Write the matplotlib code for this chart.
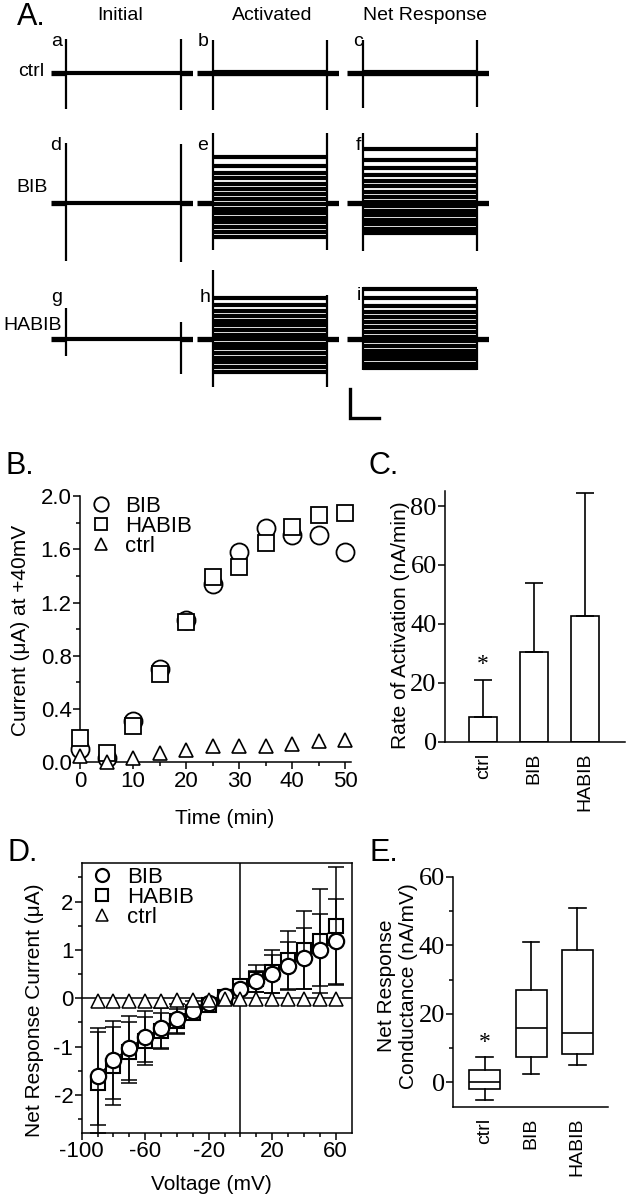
import matplotlib.pyplot as plt
import numpy as np

W, H = 627, 1199
plt.rcParams['font.family'] = ['Liberation Sans', 'DejaVu Sans']
plt.rcParams['axes.linewidth'] = 1.1
plt.rcParams['axes.unicode_minus'] = False
SERIF = 'Liberation Serif'

# ---- panel A: current traces (uA), one list per panel, -90..+60 mV steps ----
col_titles = ['Initial', 'Activated', 'Net Response']
row_names = ['ctrl', 'BIB', 'HABIB']
panel_tags = ['a', 'b', 'c', 'd', 'e', 'f', 'g', 'h', 'i']
sweep_ms = 1250
pulse_on_ms = 140
pulse_off_ms = 1150
scale_ms = 250
scale_ua = 1.0

ctrl_initial = [0.0]
ctrl_activated = [-0.04, -0.02, 0.0, 0.02, 0.04]
ctrl_net = [-0.04, -0.02, 0.0, 0.02, 0.04]
bib_initial = [0.0]
bib_activated = [-1.15, -0.98, -0.82, -0.66, -0.50, -0.34, -0.18, -0.02,
                 0.15, 0.32, 0.50, 0.68, 0.86, 1.05, 1.28, 1.60]
bib_net = [-1.03, -0.88, -0.72, -0.56, -0.41, -0.25, -0.10, 0.06,
           0.22, 0.40, 0.58, 0.78, 0.98, 1.20, 1.50, 1.86]
habib_initial = [0.0]
habib_activated = [-1.13, -0.97, -0.80, -0.64, -0.48, -0.32, -0.16, 0.0,
                   0.15, 0.31, 0.47, 0.63, 0.80, 0.98, 1.18, 1.40]
habib_net = [-1.01, -0.86, -0.70, -0.55, -0.40, -0.24, -0.08, 0.08,
             0.24, 0.40, 0.57, 0.75, 0.94, 1.14, 1.40, 1.71]

# capacitive transients at pulse on / off (uA), panels a..i
on_top = [1.17, 1.15, 1.15, 2.08, 2.41, 2.42, 1.07, 2.38, 1.80]
on_bot = [-1.24, -1.27, -1.20, -1.98, -1.61, -1.64, -0.58, -1.64, -1.07]
off_top = [1.17, 1.15, 1.15, 2.05, 2.41, 2.42, 0.59, 1.52, 1.72]
off_bot = [-1.27, -1.27, -1.17, -2.02, -1.61, -1.64, -1.21, -1.64, -1.07]

# ---- panel B: current at +40 mV vs time ----
time_min = [0, 5, 10, 15, 20, 25, 30, 35, 40, 45, 50]
bib_time = [0.10, 0.03, 0.31, 0.70, 1.07, 1.34, 1.58, 1.76, 1.71, 1.71, 1.58]
habib_time = [0.18, 0.07, 0.27, 0.66, 1.05, 1.39, 1.47, 1.65, 1.77, 1.86, 1.87]
ctrl_time = [0.05, 0.0, 0.03, 0.07, 0.09, 0.12, 0.12, 0.12, 0.14, 0.16, 0.17]

# ---- panel C: rate of activation ----
groups = ['ctrl', 'BIB', 'HABIB']
rate_mean = [8.5, 30.5, 42.5]
rate_sd = [12.5, 23.5, 42.0]

# ---- panel D: I-V of net response ----
volt_mv = [-90, -80, -70, -60, -50, -40, -30, -20, -10, 0, 10, 20, 30, 40, 50, 60]
bib_iv = [-1.62, -1.28, -1.03, -0.80, -0.62, -0.42, -0.26, -0.10,
          0.05, 0.20, 0.35, 0.50, 0.67, 0.83, 1.00, 1.18]
bib_iv_err = [1.00, 0.80, 0.67, 0.53, 0.42, 0.30, 0.20, 0.08,
              0.05, 0.10, 0.22, 0.40, 0.50, 0.63, 0.75, 0.88]
habib_iv = [-1.75, -1.40, -1.12, -0.88, -0.68, -0.48, -0.30, -0.13,
            0.03, 0.25, 0.40, 0.55, 0.80, 1.00, 1.18, 1.50]
habib_iv_err = [1.05, 0.80, 0.63, 0.50, 0.38, 0.26, 0.16, 0.08,
                0.05, 0.12, 0.28, 0.45, 0.60, 0.80, 1.08, 1.22]
ctrl_iv = [-0.06, -0.06, -0.05, -0.05, -0.05, -0.04, -0.04, -0.03,
           -0.02, -0.02, -0.02, -0.02, -0.02, -0.02, -0.02, -0.02]

# ---- panel E: conductance box plot ----
cond_med = [0.0, 16.0, 14.5]
cond_q1 = [-2.0, 7.5, 8.2]
cond_q3 = [3.5, 27.0, 38.7]
cond_lo = [-5.0, 2.5, 5.0]
cond_hi = [7.5, 41.0, 51.0]

fig = plt.figure(figsize=(W / 100, H / 100), dpi=100)


def px_axes(left, top, right, bottom):
    return fig.add_axes([left / W, 1 - bottom / H, (right - left) / W, (bottom - top) / H])


def ftext(x, y, s, **kw):
    kw.setdefault('ha', 'center')
    kw.setdefault('va', 'center')
    return fig.text(x / W, 1 - y / H, s, **kw)


# ================= A =================
trace_sets = [ctrl_initial, ctrl_activated, ctrl_net,
              bib_initial, bib_activated, bib_net,
              habib_initial, habib_activated, habib_net]
col_left = [50.5, 196.7, 346.7]
row_base = [73.3, 203.3, 339.0]
ua_px = 29.0
half = 110
for k, levels in enumerate(trace_sets):
    r, c = divmod(k, 3)
    ax = px_axes(col_left[c], row_base[r] - half, col_left[c] + 142, row_base[r] + half)
    ax.set_xlim(0, sweep_ms)
    ax.set_ylim(-half / ua_px, half / ua_px)
    ax.axis('off')
    ax.plot([0, pulse_on_ms], [0, 0], color='k', lw=3.8, solid_capstyle='butt')
    ax.plot([pulse_off_ms, sweep_ms], [0, 0], color='k', lw=3.8, solid_capstyle='butt')
    for lv in levels:
        ax.plot([pulse_on_ms, pulse_off_ms], [lv, lv], color='k', lw=3.0,
                solid_capstyle='butt')
    ax.vlines([pulse_on_ms, pulse_off_ms], [on_bot[k], off_bot[k]],
              [on_top[k], off_top[k]], color='k', lw=1.6)
    if k == 8:
        # scale bar
        x0 = 30
        y0 = -2.72
        ax.plot([x0, x0, x0 + scale_ms], [y0 + scale_ua, y0, y0], color='k',
                lw=2.4, clip_on=False, solid_joinstyle='miter')

for c, t in enumerate(col_titles):
    ftext([120, 272, 425][c], 15, t, fontsize=14)
for r, n in enumerate(row_names):
    ftext([31, 32, 33][r], [72, 187, 325][r], n, fontsize=14)
tag_xy = [(57, 41), (203, 41), (358, 41), (56, 145), (203, 145), (358, 145),
          (57, 298), (205, 297), (359, 295)]
for t, (x, y) in zip(panel_tags, tag_xy):
    ftext(x, y, t, fontsize=14)

# ================= B =================
axB = px_axes(80, 496, 351, 762.3)
axB.plot(time_min, bib_time, 'o', ms=13, mfc='white', mec='k', mew=1.3,
         clip_on=False, label='BIB', zorder=3)
axB.plot(time_min, habib_time, 's', ms=11, mfc='white', mec='k', mew=1.3,
         clip_on=False, label='HABIB', zorder=4)
axB.plot(time_min, ctrl_time, '^', ms=10.5, mfc='white', mec='k', mew=1.2,
         clip_on=False, label='ctrl', zorder=5)
axB.set_xlim(0, 51.1)
axB.set_ylim(0, 2.0)
axB.set_xticks([0, 10, 20, 30, 40, 50])
axB.set_xticks([5, 15, 25, 35, 45], minor=True)
axB.set_yticks([0, 0.4, 0.8, 1.2, 1.6, 2.0])
axB.set_yticklabels(['0.0', '0.4', '0.8', '1.2', '1.6', '2.0'])
axB.set_yticks([0.2, 0.6, 1.0, 1.4, 1.8], minor=True)
for s in ['top', 'right']:
    axB.spines[s].set_visible(False)
axB.tick_params(which='major', length=5, width=1.1, labelsize=16, pad=1)
axB.tick_params(which='minor', length=3, width=1.1)
legB = axB.legend(loc='upper left', bbox_to_anchor=(0.035, 1.0), frameon=False,
                  fontsize=16, markerscale=0.8, handlelength=1.0,
                  handletextpad=0.6, labelspacing=-0.05, borderaxespad=0, borderpad=0)
ftext(21, 630, 'Current (μA) at +40mV', rotation=90, fontsize=15)
ftext(224.5, 818, 'Time (min)', fontsize=15)

# ================= C =================
axC = px_axes(445, 490.7, 625, 741.7)
xc = np.arange(len(groups))
axC.bar(xc, rate_mean, width=0.55, color='white', edgecolor='k', lw=1.2)
axC.errorbar(xc, rate_mean, yerr=[[0] * len(groups), rate_sd], fmt='none',
             ecolor='k', elinewidth=1.2, capsize=6.5, capthick=1.2)
axC.text(xc[0], rate_mean[0] + rate_sd[0] + 1.5, '*', ha='center', va='bottom',
         fontsize=17, family=SERIF)
axC.set_xlim(-0.75, 2.78)
axC.set_ylim(0, 85.2)
axC.set_yticks([0, 20, 40, 60, 80])
axC.set_xticks(xc)
axC.set_xticklabels(groups, rotation=90, fontsize=14, va='top')
for s in ['top', 'right']:
    axC.spines[s].set_visible(False)
axC.tick_params(axis='x', length=0, pad=8)
axC.tick_params(axis='y', length=5, width=1.1, pad=1)
for lbl in axC.get_yticklabels():
    lbl.set_fontfamily(SERIF)
    lbl.set_fontsize(19)
ftext(400.5, 625, 'Rate of Activation (nA/min)', rotation=90, fontsize=15)

# ================= D =================
axD = px_axes(81.7, 863, 352.3, 1133)
axD.axhline(0, color='k', lw=1.1, zorder=1)
axD.axvline(0, color='k', lw=1.1, zorder=1)
axD.errorbar(volt_mv, habib_iv, yerr=habib_iv_err, fmt='none', ecolor='k',
             elinewidth=1.1, capsize=6, capthick=1.1, zorder=2)
axD.plot(volt_mv, habib_iv, '-s', color='k', lw=1.0, ms=10, mfc='white', mec='k',
         mew=1.5, label='HABIB', zorder=3)
axD.errorbar(volt_mv, bib_iv, yerr=bib_iv_err, fmt='none', ecolor='k',
             elinewidth=1.1, capsize=6, capthick=1.1, zorder=4)
axD.plot(volt_mv, bib_iv, '-o', color='k', lw=1.0, ms=11, mfc='white', mec='k',
         mew=1.6, label='BIB', zorder=5)
axD.plot(volt_mv, ctrl_iv, '^', ms=10, mfc='white', mec='k', mew=1.1,
         label='ctrl', zorder=6)
axD.set_xlim(-100, 70.5)
axD.set_ylim(-2.79, 2.8)
axD.set_xticks([-100, -60, -20, 20, 60])
axD.set_xticks(np.arange(-90, 70, 10), minor=True)
axD.set_yticks([-2, -1, 0, 1, 2])
axD.set_yticks([-2.5, -1.5, -0.5, 0.5, 1.5, 2.5], minor=True)
axD.tick_params(which='major', length=5, width=1.1, labelsize=16, pad=1)
axD.tick_params(which='minor', length=3, width=1.1)
hD, lD = axD.get_legend_handles_labels()
order = [lD.index('BIB'), lD.index('HABIB'), lD.index('ctrl')]
axD.legend([hD[i] for i in order], [lD[i] for i in order], loc='upper left',
           bbox_to_anchor=(0.035, 0.985), frameon=False, fontsize=16, markerscale=0.85,
           handlelength=1.0, handletextpad=0.6, labelspacing=-0.05,
           borderaxespad=0, borderpad=0)
for h in axD.get_legend().legend_handles:
    h.set_linestyle('none')
ftext(35, 1010, 'Net Response Current (μA)', rotation=90, fontsize=15)
ftext(211, 1185, 'Voltage (mV)', fontsize=15)

# ================= E =================
axE = px_axes(453.3, 876.7, 608.3, 1106.7)
stats = [dict(med=m, q1=a, q3=b, whislo=lo, whishi=hi, fliers=[])
         for m, a, b, lo, hi in zip(cond_med, cond_q1, cond_q3, cond_lo, cond_hi)]
axE.bxp(stats, positions=xc, widths=0.67, showfliers=False, patch_artist=True,
        boxprops=dict(facecolor='white', edgecolor='k', lw=1.2),
        medianprops=dict(color='k', lw=1.2),
        whiskerprops=dict(color='k', lw=1.2),
        capprops=dict(color='k', lw=1.2), capwidths=0.36)
axE.text(xc[0], cond_hi[0] + 1.0, '*', ha='center', va='bottom', fontsize=17,
         family=SERIF)
axE.set_xlim(-0.68, 2.67)
axE.set_ylim(-7.1, 60)
axE.set_yticks([0, 20, 40, 60])
axE.set_yticks([10, 30, 50], minor=True)
axE.set_xticks(xc)
axE.set_xticklabels(groups, rotation=90, fontsize=14, va='top')
for s in ['top', 'right']:
    axE.spines[s].set_visible(False)
axE.tick_params(axis='x', length=0, pad=8)
axE.tick_params(axis='y', which='major', length=5, width=1.1, pad=1)
axE.tick_params(axis='y', which='minor', length=3, width=1.1)
for lbl in axE.get_yticklabels():
    lbl.set_fontfamily(SERIF)
    lbl.set_fontsize(19)
ftext(397.5, 986, 'Net Response\nConductance (nA/mV)', rotation=90, fontsize=15,
      linespacing=1.15)

# panel letters
for s, (x, y) in zip(['A.', 'B.', 'C.', 'D.', 'E.'],
                     [(31, 17), (20, 466), (384, 466), (23, 853), (384, 853)]):
    ftext(x, y, s, fontsize=22)

fig.savefig('out.png', dpi=100)
